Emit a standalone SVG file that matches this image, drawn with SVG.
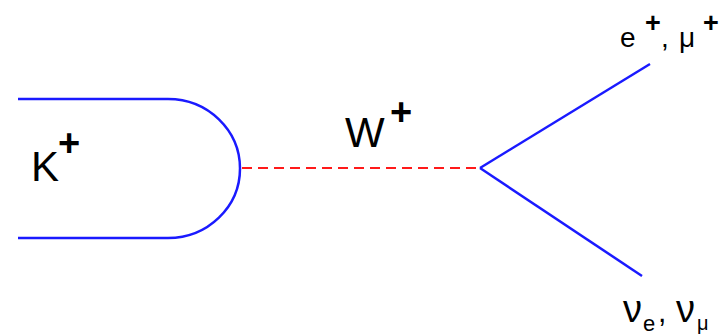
<svg xmlns="http://www.w3.org/2000/svg" width="724" height="336" viewBox="0 0 724 336">
<style>
.q{fill:none;stroke:#1a1aff;stroke-width:2.5}
.w{fill:none;stroke:#ff1a1a;stroke-width:2;stroke-dasharray:10 6}
text{font-family:"Liberation Sans",Arial,sans-serif;fill:#000}
.sup{font-weight:bold}
</style>
<rect width="724" height="336" fill="#fff"/>
<g id="connectors">
<path class="q" d="M18 99 H168 A72 69.5 0 0 1 168 238 H18"/>
<line class="w" x1="242" y1="168" x2="480" y2="168"/>
<line class="q" x1="480" y1="168" x2="650" y2="64"/>
<line class="q" x1="480" y1="168" x2="642" y2="276"/>
</g>
<g id="kaon"><text x="31" y="181" font-size="42">K<tspan class="sup" font-size="38" x="58" y="156">+</tspan></text></g>
<g id="wboson"><text x="345" y="147" font-size="42">W<tspan class="sup" font-size="38" x="390" y="125">+</tspan></text></g>
<g id="leptons"><text y="47" font-size="28"><tspan x="620">e</tspan><tspan class="sup" font-size="27" x="645" y="32">+</tspan><tspan x="661" y="47">,</tspan><tspan x="679">μ</tspan><tspan class="sup" font-size="27" x="703" y="32">+</tspan></text></g>
<g id="neutrinos"><text y="322" font-size="38"><tspan x="623">ν</tspan><tspan font-size="22" x="643" y="331">e</tspan><tspan font-size="30" x="658" y="322">,</tspan><tspan x="676">ν</tspan><tspan font-size="20" x="697" y="330">μ</tspan></text></g>
</svg>
